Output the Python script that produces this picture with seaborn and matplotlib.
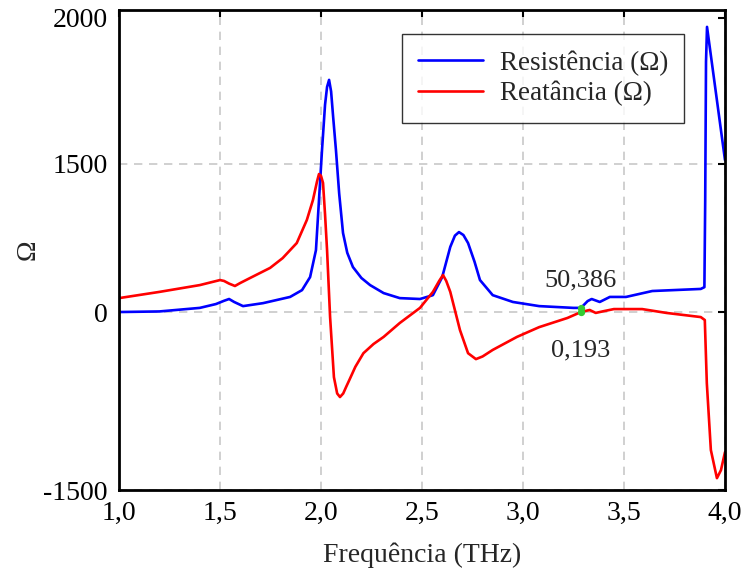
import numpy as np
import pandas as pd
import matplotlib
matplotlib.use("Agg")
import matplotlib.pyplot as plt
import seaborn as sns

# frequency (THz) and values in plot units (tick "1500" sits at 500, "2000" near 1000)
freq_res = [1.0, 1.2, 1.4, 1.48, 1.52, 1.545, 1.57, 1.614, 1.713, 1.847, 1.906, 1.946,
            1.975, 1.99, 2.005, 2.02, 2.03, 2.04, 2.05, 2.06, 2.074, 2.09, 2.109, 2.13,
            2.158, 2.2, 2.243, 2.31, 2.39, 2.49, 2.554, 2.60, 2.64, 2.663, 2.683, 2.705,
            2.728, 2.76, 2.787, 2.85, 2.95, 3.08, 3.25, 3.287, 3.32, 3.34, 3.38, 3.43,
            3.51, 3.64, 3.88, 3.898, 3.902, 3.906, 3.911, 4.0]
resist = [0, 2, 14, 27, 38, 44, 34, 20, 30, 51, 74, 118,
          209, 378, 547, 700, 760, 784, 745, 660, 547, 400, 267, 200,
          152, 115, 91, 64, 47, 44, 57, 118, 220, 258, 270, 260,
          233, 170, 108, 57, 34, 20, 14, 14, 37, 44, 34, 51,
          51, 71, 78, 84, 375, 845, 963, 513]

freq_rea = [1.0, 1.2, 1.4, 1.5, 1.52, 1.545, 1.574, 1.6, 1.649, 1.748, 1.81, 1.88,
            1.93, 1.96, 1.98, 1.99, 2.0, 2.01, 2.02, 2.03, 2.045, 2.064, 2.08, 2.094,
            2.11, 2.125, 2.14, 2.17, 2.21, 2.26, 2.31, 2.39, 2.49, 2.554, 2.585, 2.604,
            2.62, 2.64, 2.688, 2.728, 2.767, 2.80, 2.85, 2.97, 3.08, 3.22, 3.287, 3.33,
            3.36, 3.40, 3.45, 3.59, 3.71, 3.88, 3.90, 3.91, 3.93, 3.96, 3.98, 4.0]
react = [47, 68, 91, 108, 105, 96, 88, 98, 115, 149, 182, 233,
         311, 378, 440, 466, 460, 436, 330, 209, -17, -220, -275, -287,
         -275, -252, -230, -185, -139, -108, -84, -37, 14, 68, 105, 125,
         105, 68, -61, -139, -159, -150, -128, -84, -51, -20, 0, 7,
         -3, 3, 10, 10, -3, -17, -27, -240, -466, -561, -534, -473]

x_ticks = [1.0, 1.5, 2.0, 2.5, 3.0, 3.5, 4.0]
x_labels = ["1,0", "1,5", "2,0", "2,5", "3,0", "3,5", "4,0"]
y_ticks = [-601, 0, 500, 993]
y_labels = ["-1500", "0", "1500", "2000"]

mark_x = 3.287
mark_res = 14
mark_rea = 0

df_res = pd.DataFrame({"freq": freq_res, "value": resist})
df_rea = pd.DataFrame({"freq": freq_rea, "value": react})

sns.set_theme(style="white")
plt.rcParams["font.family"] = ["Liberation Serif", "DejaVu Serif"]

fig = plt.figure(figsize=(7.41, 5.79), dpi=100)
ax = fig.add_axes([119 / 741, 1 - 490 / 579, 606 / 741, 480 / 579])

ax.grid(True, color="#c8c8c8", linestyle=(0, (5, 4)), linewidth=1.2)
ax.set_axisbelow(True)

sns.lineplot(data=df_res, x="freq", y="value", ax=ax, color="#0000ff", linewidth=1.9,
             label="Resistência (Ω)", estimator=None, sort=False)
sns.lineplot(data=df_rea, x="freq", y="value", ax=ax, color="#ff0000", linewidth=1.9,
             label="Reatância (Ω)", estimator=None, sort=False)

ax.plot([mark_x, mark_x], [mark_res, mark_rea], color="#33cc33", linewidth=2.5)
ax.scatter([mark_x, mark_x], [mark_res, mark_rea], color="#33cc33", s=18, zorder=5)
ax.text(mark_x, 105, "50,386", ha="center", va="center", fontsize=19)
ax.text(mark_x, -130, "0,193", ha="center", va="center", fontsize=19)

ax.set_xlim(1.0, 4.0)
ax.set_ylim(-601, 1020)
ax.set_xticks(x_ticks)
ax.set_xticklabels(x_labels)
ax.set_yticks(y_ticks)
ax.set_yticklabels(y_labels)
ax.tick_params(axis="both", direction="in", length=5, width=1.5, labelsize=20,
               top=True, right=True, pad=8, colors="black")
ax.yaxis.get_gridlines()[3].set_visible(False)
ax.set_xlabel("Frequência (THz)", fontsize=20, labelpad=12)
ax.set_ylabel("Ω", fontsize=20, labelpad=2)

for sp in ax.spines.values():
    sp.set_color("black")
    sp.set_linewidth(2)

leg = ax.legend(loc="upper left", bbox_to_anchor=(0.467, 0.95), fontsize=19.5,
                frameon=True, fancybox=False, edgecolor="black", handlelength=2.4,
                borderpad=0.6, labelspacing=0.2, handletextpad=0.6, borderaxespad=0)
leg.get_frame().set_linewidth(1.0)

fig.savefig("out.png", dpi=100)
